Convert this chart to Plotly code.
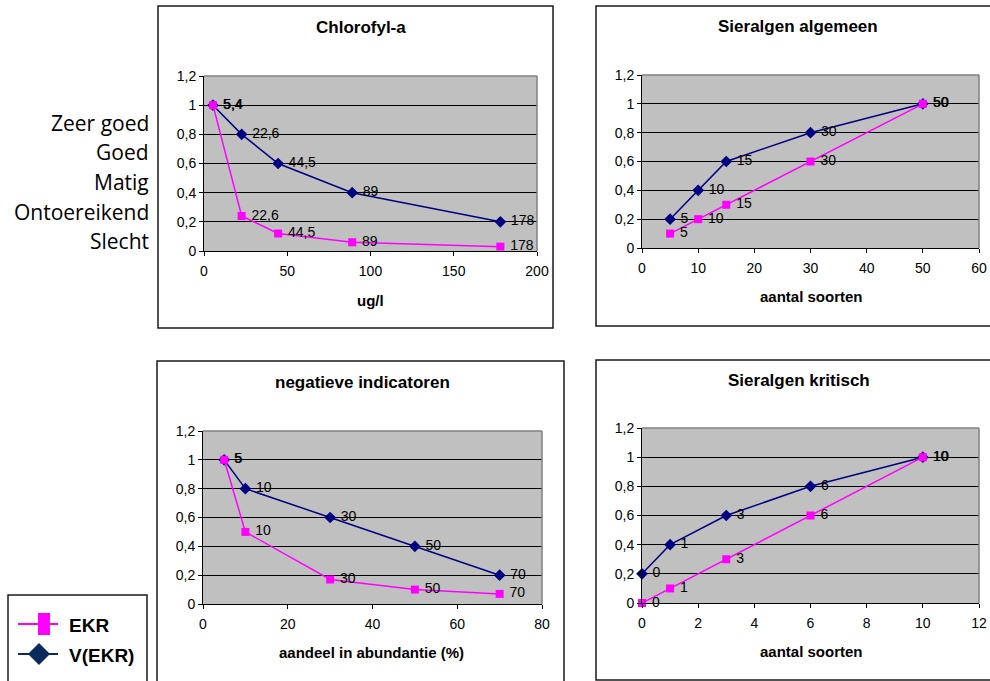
import plotly.graph_objects as go

W, H = 990, 681

# ---------------- data ----------------
chl_x = [5.4, 22.6, 44.5, 89, 178]
chl_v = [1, 0.8, 0.6, 0.4, 0.2]
chl_ekr = [1, 0.24, 0.12, 0.06, 0.03]

alg_x = [5, 10, 15, 30, 50]
alg_v = [0.2, 0.4, 0.6, 0.8, 1]
alg_ekr = [0.1, 0.2, 0.3, 0.6, 1]

neg_x = [5, 10, 30, 50, 70]
neg_v = [1, 0.8, 0.6, 0.4, 0.2]
neg_ekr = [1, 0.5, 0.17, 0.1, 0.07]

krit_x = [0, 1, 3, 6, 10]
krit_v = [0.2, 0.4, 0.6, 0.8, 1]
krit_ekr = [0, 0.1, 0.3, 0.6, 1]

titles = ["Chlorofyl-a", "Sieralgen algemeen", "negatieve indicatoren", "Sieralgen kritisch"]
xtitles = ["ug/l", "aantal soorten", "aandeel in abundantie (%)", "aantal soorten"]
xranges = [(0, 200, 50), (0, 60, 10), (0, 80, 20), (0, 12, 2)]
quality_labels = ["Zeer goed", "Goed", "Matig", "Ontoereikend", "Slecht"]
series_names = ["EKR", "V(EKR)"]

MAGENTA = "#FF00FF"
NAVY = "#000080"
FONT = "Liberation Sans, Arial, sans-serif"


def px(x):
    return x / W


def py(y):
    return 1 - y / H


def lab(v):
    return ("%g" % v).replace(".", ",")


# panel geometry in pixels: plot area (x0, x1, ytop, ybot), outer box, title pos, axis-title pos
panels = [
    dict(plot=(204, 537, 76, 251), box=(158, 553, 6, 328), t=(361, 28), xt=(370, 300)),
    dict(plot=(642, 979, 75, 248), box=(596, 994, 6, 326), t=(798, 27), xt=(811, 296)),
    dict(plot=(203, 542, 431, 604), box=(157, 564, 361, 686), t=(362, 382), xt=(371, 652)),
    dict(plot=(642, 979, 428, 603), box=(596, 994, 360, 680), t=(799, 380), xt=(811, 651)),
]

data = [
    (chl_x, chl_ekr, chl_v),
    (alg_x, alg_ekr, alg_v),
    (neg_x, neg_ekr, neg_v),
    (krit_x, krit_ekr, krit_v),
]

fig = go.Figure()
shapes = []
annotations = []

for i, (p, (xs, ekr, v)) in enumerate(zip(panels, data)):
    n = "" if i == 0 else str(i + 1)
    xa, ya = "x" + n, "y" + n
    texts = ["\u00a0" + lab(x) for x in xs]
    fig.add_trace(go.Scatter(
        x=xs, y=v, xaxis=xa, yaxis=ya, mode="lines+markers+text",
        name=series_names[1], showlegend=False,
        line=dict(color=NAVY, width=1.5),
        marker=dict(symbol="diamond", size=9, color=NAVY),
        text=texts, textposition="middle right",
        textfont=dict(family=FONT, size=14, color="#000000"),
        cliponaxis=False,
    ))
    fig.add_trace(go.Scatter(
        x=xs, y=ekr, xaxis=xa, yaxis=ya, mode="lines+markers+text",
        name=series_names[0], showlegend=False,
        line=dict(color=MAGENTA, width=1.5),
        marker=dict(symbol="square", size=8, color=MAGENTA),
        text=texts, textposition="middle right",
        textfont=dict(family=FONT, size=14, color="#000000"),
        cliponaxis=False,
    ))
    x0, x1, yt, yb = p["plot"]
    r0, r1, dt = xranges[i]
    fig.update_layout({
        "xaxis" + n: dict(
            domain=[px(x0), px(x1)], anchor=ya, range=[r0, r1], dtick=dt, tick0=0,
            showline=True, linecolor="black", linewidth=1, ticks="outside",
            ticklen=4, tickcolor="black", showgrid=False, zeroline=False,
            tickfont=dict(family=FONT, size=14, color="black"), ticklabelstandoff=3,
            automargin=False,
        ),
        "yaxis" + n: dict(
            domain=[py(yb), py(yt)], anchor=xa, range=[0, 1.2], dtick=0.2, tick0=0,
            showline=True, linecolor="black", linewidth=1, ticks="outside",
            ticklen=4, tickcolor="black", showgrid=True, gridcolor="black",
            gridwidth=1, zeroline=False,
            tickfont=dict(family=FONT, size=14, color="black"),
            automargin=False,
        ),
    })
    # gray plot-area border on top and right
    shapes.append(dict(type="line", xref=xa + " domain", yref=ya + " domain",
                       x0=0, x1=1, y0=1, y1=1, line=dict(color="#808080", width=1.5)))
    shapes.append(dict(type="line", xref=xa + " domain", yref=ya + " domain",
                       x0=1, x1=1, y0=0, y1=1, line=dict(color="#808080", width=1.5)))
    # outer chart box
    bx0, bx1, by0, by1 = p["box"]
    shapes.append(dict(type="rect", xref="paper", yref="paper",
                       x0=px(bx0), x1=px(bx1), y0=py(by1), y1=py(by0),
                       line=dict(color="#1a1a1a", width=1.5)))
    annotations.append(dict(text="<b>%s</b>" % titles[i], xref="paper", yref="paper",
                            x=px(p["t"][0]), y=py(p["t"][1]), xanchor="center",
                            yanchor="middle", showarrow=False,
                            font=dict(family=FONT, size=17, color="black")))
    annotations.append(dict(text="<b>%s</b>" % xtitles[i], xref="paper", yref="paper",
                            x=px(p["xt"][0]), y=py(p["xt"][1]), xanchor="center",
                            yanchor="middle", showarrow=False,
                            font=dict(family=FONT, size=15, color="black")))

# left quality labels
for k, q in enumerate(quality_labels):
    annotations.append(dict(text=q, xref="paper", yref="paper", x=px(151),
                            y=py(123 + k * 29.5), xanchor="right", yanchor="middle",
                            showarrow=False,
                            font=dict(family="Open Sans, sans-serif", size=21, color="black")))

# manual legend
LEG_NAVY = "#0a2a5e"
shapes.append(dict(type="rect", xref="paper", yref="paper", x0=px(8), x1=px(147),
                   y0=py(686), y1=py(595), line=dict(color="#1a1a1a", width=1.5),
                   fillcolor="white"))
shapes.append(dict(type="line", xref="paper", yref="paper", x0=px(18), x1=px(58),
                   y0=py(624), y1=py(624), line=dict(color=MAGENTA, width=2)))
shapes.append(dict(type="rect", xref="paper", yref="paper", x0=px(38), x1=px(50),
                   y0=py(635), y1=py(613), line=dict(color=MAGENTA, width=0),
                   fillcolor=MAGENTA))
shapes.append(dict(type="line", xref="paper", yref="paper", x0=px(18), x1=px(58),
                   y0=py(654), y1=py(654), line=dict(color=LEG_NAVY, width=2)))
shapes.append(dict(type="path", xref="paper", yref="paper",
                   path="M %f %f L %f %f L %f %f L %f %f Z" % (
                       px(28), py(654), px(39), py(643), px(50), py(654), px(39), py(665)),
                   line=dict(color=LEG_NAVY, width=0), fillcolor=LEG_NAVY))
annotations.append(dict(text="<b>EKR</b>", xref="paper", yref="paper", x=px(67),
                        y=py(625), xanchor="left", yanchor="middle", showarrow=False,
                        font=dict(family=FONT, size=19, color="black")))
annotations.append(dict(text="<b>V(EKR)</b>", xref="paper", yref="paper", x=px(67),
                        y=py(655), xanchor="left", yanchor="middle", showarrow=False,
                        font=dict(family=FONT, size=19, color="black")))

fig.update_layout(
    width=W, height=H, margin=dict(l=0, r=0, t=0, b=0, autoexpand=False),
    paper_bgcolor="white", plot_bgcolor="#C0C0C0",
    separators=", ", showlegend=False,
    shapes=shapes, annotations=annotations,
    font=dict(family=FONT, size=13, color="black"),
)

fig.write_html("out.html")
